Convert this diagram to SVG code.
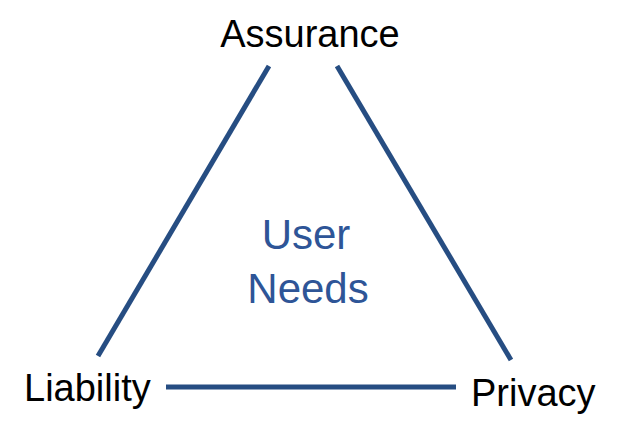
<svg xmlns="http://www.w3.org/2000/svg" width="620" height="438" viewBox="0 0 620 438">
<style>
.l{stroke:#264d82;stroke-width:5;fill:none}
.t{font-family:"Liberation Sans",Arial,sans-serif;font-size:38px;fill:#000}
.c{font-family:"Liberation Sans",Arial,sans-serif;font-size:42px;fill:#2e5597;text-anchor:middle}
</style>
<rect width="620" height="438" fill="#fff"/>
<g id="connectors">
<line class="l" x1="269" y1="66" x2="98" y2="356"/>
<line class="l" x1="337" y1="66" x2="511" y2="360"/>
<line class="l" x1="166" y1="387" x2="456" y2="387"/>
</g>
<g id="assurance"><text class="t" x="310" y="47" text-anchor="middle">Assurance</text></g>
<g id="liability"><text class="t" x="24" y="401">Liability</text></g>
<g id="privacy"><text class="t" x="471" y="406">Privacy</text></g>
<g id="userneeds"><text class="c" x="306" y="249">User</text><text class="c" x="308" y="303">Needs</text></g>
</svg>
